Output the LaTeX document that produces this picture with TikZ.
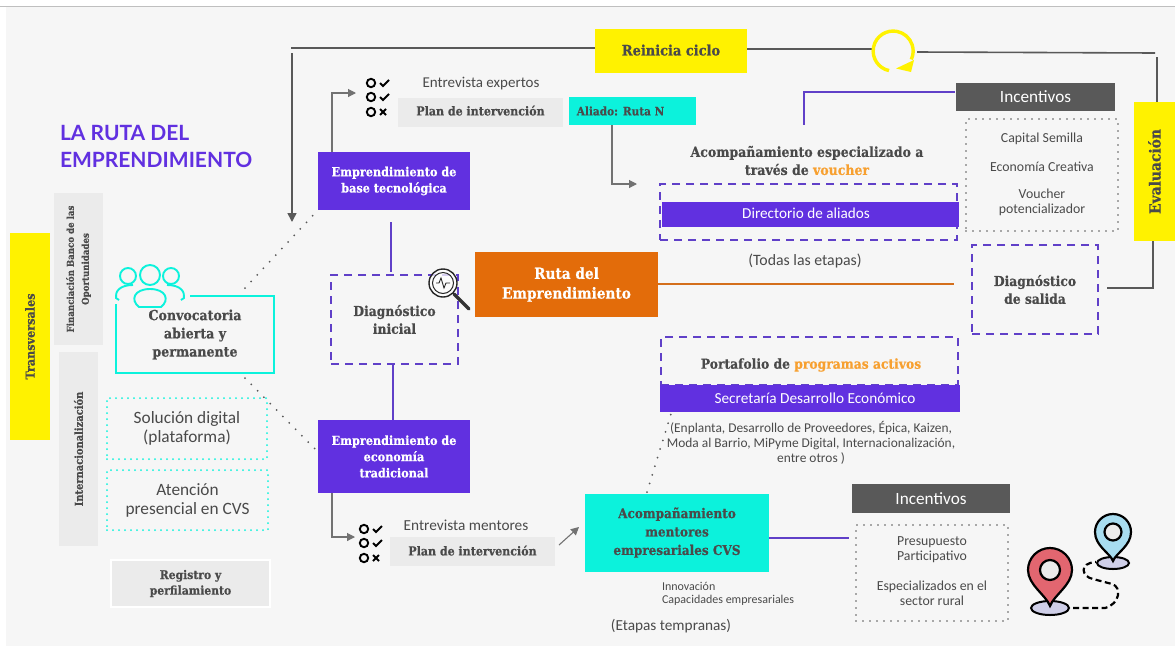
\documentclass[tikz,border=0pt]{standalone}
\usepackage{fontspec}
\setmainfont{Carlito}
\newfontfamily\slab[BoldFeatures={FakeBold=0.5}]{DejaVu Serif Condensed}
\newfontfamily\ttl{Lato}
\usetikzlibrary{arrows.meta,calc}
\definecolor{ypl}{HTML}{FFF200}
\definecolor{pur}{HTML}{6130E0}
\definecolor{lin}{HTML}{6040C8}
\definecolor{teal1}{HTML}{0CF2DC}
\definecolor{gbox}{HTML}{EBEBEB}
\definecolor{dgray}{HTML}{595959}
\definecolor{txt}{HTML}{4A4A4A}
\definecolor{org}{HTML}{E36C0A}
\definecolor{org2}{HTML}{F7A030}
\definecolor{bgc}{HTML}{F6F6F6}
\definecolor{pinr}{HTML}{E26670}
\definecolor{pinb}{HTML}{A8DDF0}
\definecolor{pinl}{HTML}{CFCFE8}
\newcommand{\bx}[7]{\node[#6,minimum width={(#4-#2)*1pt},minimum height={(#5-#3)*1pt}] (#1) at ({(#2+#4)/2},{-(#3+#5)/2}) {#7};}
\newcommand{\vbx}[7]{\node[#6,rotate=90,minimum width={(#5-#3)*1pt},minimum height={(#4-#2)*1pt}] (#1) at ({(#2+#4)/2},{-(#3+#5)/2}) {#7};}
\newcommand{\chk}[3]{%
 \draw[black,line width=1.9] (#1,#2) circle[radius=4.2];
 \ifnum#3=1 \draw[black,line width=1.8] (#1+9,#2) -- (#1+12,#2-3) -- (#1+18,#2+3);
 \else \draw[black,line width=1.8] (#1+9,#2+3) -- (#1+15,#2-3) (#1+9,#2-3) -- (#1+15,#2+3);\fi}
\tikzset{
 every node/.style={inner sep=0,outer sep=0,align=center,text=txt},
 sl/.style={font=\slab\bfseries\fontsize{#1}{\dimexpr#1pt*13/10\relax}\selectfont},
 rg/.style={font=\fontsize{#1}{\dimexpr#1pt*11/10\relax}\selectfont},
 yb/.style={fill=ypl},
 pb/.style={fill=pur,text=white},
 gb/.style={fill=gbox},
 db/.style={fill=dgray,text=white},
 tb/.style={fill=teal1},
 dash box/.style={draw=lin,line width=1.9,dash pattern=on 8pt off 6pt},
 dot box/.style={draw=dgray,line width=1.7,line cap=round,dash pattern=on 0pt off 7pt},
 dotl/.style={draw=dgray,line width=2,line cap=round,dash pattern=on 0pt off 9pt},
 tdot/.style={draw=teal1,line width=2,line cap=round,dash pattern=on 0pt off 6pt},
 gl/.style={draw=dgray,line width=1.6},
 gla/.style={draw=dgray!85,line width=1.1,-{Triangle[length=8pt,width=8pt]}},
 pl/.style={draw=lin,line width=1.8},
}
\begin{document}
\begin{tikzpicture}[x=1pt,y=1pt]
\useasboundingbox (0,0) rectangle (1175,-646);
\fill[white] (0,0) rectangle (1175,-646);
\fill[bgc] (6,-7) rectangle (1175,-646);
\draw[gray!50,line width=.8] (0,-6.5) -- (1175,-6.5);
% title
\node[anchor=west,text=pur,font=\ttl\bfseries\fontsize{21}{27}\selectfont,align=left] (title) at (60,-146) {LA RUTA DEL\\EMPRENDIMIENTO};
% left column
\vbx{trans}{10}{233}{50}{440}{yb,sl=12.5}{Transversales}
\vbx{fin}{54}{193}{103}{345}{gb,font=\slab\bfseries\fontsize{9.6}{15}\selectfont}{Financiación Banco de las\\Oportunidades}
\vbx{inter}{59}{352}{98}{546}{gb,sl=11}{Internacionalización}
\bx{conv}{116}{296}{274}{373}{sl=14}{Convocatoria\\abierta y\\permanente}
\draw[teal1,line width=2.4] ($(conv.north west)+(74,0)$) -- (conv.north east) -- (conv.south east) -- (conv.south west) -- ($(conv.north west)+(0,-8)$);
\bx{sol}{107}{398}{267}{459}{tdot,rg=17.3}{Solución digital\\(plataforma)}
\bx{ate}{107}{470}{268}{530}{tdot,rg=17.3}{Atención\\presencial en CVS}
\fill[white] (110,-559) rectangle (271,-608);
\bx{reg}{112}{561}{269}{606}{gb,sl=12}{Registro y\\perfilamiento}
% people
\begin{scope}[line width=1.9]
\draw[teal1] (150,-275) circle[radius=10];
\draw[teal1] (128,-276) circle[radius=8];
\draw[teal1] (171,-276) circle[radius=8];
\draw[teal1] (139,-307) .. controls (130,-300) and (134,-289) .. (150,-289) .. controls (166,-289) and (170,-300) .. (161,-307) -- cycle;
\draw[teal1] (119,-300) -- (116,-298) .. controls (115,-292) and (119,-285) .. (133,-285);
\draw[teal1] (181,-300) -- (184,-298) .. controls (185,-292) and (181,-285) .. (167,-285);
\end{scope}
% centre column
\bx{base}{318}{152}{470}{210}{pb,sl=12.5}{Emprendimiento de\\base tecnológica}
\bx{diag}{331}{275}{458}{364}{dash box,sl=13.7}{Diagnóstico\\inicial}
\bx{trad}{318}{420}{470}{493}{pb,sl=12.5}{Emprendimiento de\\economía\\tradicional}
\bx{ruta}{475}{252}{658}{317}{fill=org,text=white,sl=15.2}{Ruta del\\Emprendimiento}
\coordinate (v1t) at (391,-222); \coordinate (v1b) at (391,-272);
\draw[pl] (v1t) -- (v1b);
\coordinate (v2t) at (393,-364); \coordinate (v2b) at (393,-420);
\draw[pl] (v2t) -- (v2b);
% magnifier
\draw[black!80,line width=3.2,line cap=round] (454,-294) -- (469,-309);
\fill[white,opacity=.75] (443,-283) circle[radius=14];
\draw[black!85,line width=1.4] (443,-283) circle[radius=14];
\draw[black!85,line width=1] (443,-283) circle[radius=10.5];
\draw[black!85,line width=.9] (436,-283) -- (439,-283) -- (441,-278) -- (444,-288) -- (446,-283) -- (450,-283);
% upper plan
\chk{371}{-83}{1}\chk{371}{-97}{1}\chk{371}{-112}{0}
\node[rg=15] (ee) at (481,-84) {Entrevista expertos};
\bx{pi1}{398}{98}{563}{127}{gb,sl=12.3}{\raisebox{4pt}{Plan de intervención}}
\bx{ali}{569}{97}{696}{125}{tb,sl=11.7}{Aliado: Ruta N\hspace{24pt}}
\coordinate (a1) at (356,-93);
\draw[gla] (base.north west)++(14,0) |- (a1);
\coordinate (a2) at (637,-184);
\draw[gla] (ali.south west)++(43,0) |- (a2);
% top loop
\bx{rein}{595}{29}{747}{73}{yb,sl=14.4}{\raisebox{2pt}{Reinicia ciclo}}
\coordinate (lt) at (291,-48); \coordinate (lv1) at (292,-53); \coordinate (lv2) at (292,-222);
\draw[gl] (rein.west |- lt) -- (lt);
\draw[gl,-{Triangle[length=9pt,width=9pt]}] (lv1) -- (lv2);
\coordinate (cl) at (875,-49); \coordinate (cr) at (917,-52); \coordinate (r1) at (1155,-53);
\draw[gl] (rein.east |- cl) -- (cl);
\draw[gl] (cr) -- (r1);
\draw[ypl,line width=3.4] (889,-70.6) arc[start angle=258,end angle=-25,radius=20];
\fill[ypl] (896,-68.5) -- (914,-60) -- (911,-72) -- cycle;
\vbx{eval}{1134}{102}{1175}{241}{yb,sl=15.4}{Evaluación}
\coordinate (e1) at (1157,-57); \coordinate (e1b) at (1157,-102);
\draw[gl] (e1) -- (e1b);
\coordinate (e2) at (1153,-241); \coordinate (e3) at (1153,-288); \coordinate (e4) at (1107,-288);
\draw[gl] (e2) -- (e3) -- (e4);
% right top
\bx{inc1}{956}{83}{1115}{111}{db,rg=17.2}{Incentivos}
\coordinate (p0) at (955,-92); \coordinate (p1) at (804,-125);
\draw[pl] (p0) -| (p1);
\bx{idot}{966}{119}{1118}{231}{dot box}{}
\node[rg=13.8] (t1) at (1042,-139) {Capital Semilla};
\node[rg=13.8] (t2) at (1042,-167) {Economía Creativa};
\node[rg=13.8] (t3) at (1042,-202.5) {Voucher\\potencializador};
\node[sl=13.9] (acomp) at (807,-160.5) {Acompañamiento especializado a\\través de \textcolor{org2}{voucher}};
\bx{dirb}{660}{184}{957}{240}{dash box}{}
\bx{dir}{662}{202}{959}{227}{pb,rg=15.2}{\raisebox{2pt}{Directorio de aliados}\hspace{9pt}}
\node[rg=15.8] (tod) at (805,-261) {(Todas las etapas)};
\coordinate (o0) at (658,-284); \coordinate (o1) at (954,-284);
\draw[org!85!gray,line width=1.6] (o0) -- (o1);
\bx{dsal}{972}{245}{1098}{334}{dash box,sl=13.7}{Diagnóstico\\de salida}
% portfolio
\bx{port}{661}{337}{958}{385}{dash box}{}
\node[sl=13.7] (pt) at (811,-365) {Portafolio de \textcolor{org2}{programas activos}};
\bx{sec}{660}{385}{960}{412}{pb,rg=15.3}{\hspace{10pt}Secretaría Desarrollo Económico}
\node[rg=13.4] (lst) at (811,-443) {(Enplanta, Desarrollo de Proveedores, Épica, Kaizen,\\Moda al Barrio, MiPyme Digital, Internacionalización,\\entre otros )};
% lower
\chk{364}{-529}{1}\chk{364}{-543}{1}\chk{364}{-558}{0}
\node[rg=15.3] (em) at (466,-525) {Entrevista mentores};
\bx{pi2}{390}{537}{555}{566}{gb,sl=12.3}{\raisebox{2pt}{Plan de intervención}}
\coordinate (a3) at (355,-537);
\draw[gla] (trad.south west)++(14,0) |- (a3);
\coordinate (a4s) at (559,-545); \coordinate (a4e) at (579,-527);
\draw[gla] (a4s) -- (a4e);
\bx{men}{585}{494}{769}{572}{tb,sl=13.4}{\raisebox{2pt}{\begin{tabular}{@{}c@{}}Acompañamiento\\[1pt]mentores\\[1pt]empresariales CVS\end{tabular}}}
\bx{inc2}{852}{484}{1010}{513}{db,rg=17.2}{Incentivos}
\bx{idot2}{856}{525}{1008}{621}{dot box}{}
\coordinate (p2s) at (769,-538); \coordinate (p2) at (849,-538);
\draw[pl] (p2s) -- (p2);
\node[rg=13.8] (t4) at (932,-550) {Presupuesto\\Participativo};
\node[rg=13.8] (t5) at (932,-593) {Especializados en el\\sector rural};
\node[anchor=west,align=left,rg=12] (inn) at (662,-593.5) {Innovación\\Capacidades empresariales};
\node[rg=15.3] (etp) at (671,-626) {(Etapas tempranas)};
% dotted connectors
\coordinate (d1) at (245,-288); \coordinate (d2) at (245,-378); \coordinate (d2e) at (318,-452);
\draw[dotl] (d1) -- (base.south west);
\draw[dotl] (d2) -- (d2e);
\coordinate (d3) at (671,-414);
\draw[dotl,dash pattern=on 0pt off 9pt] (men.north west)++(62,2) -- (d3);
% pins
\draw[black,line width=2,fill=pinl] (1050,-608) ellipse[x radius=19,y radius=7];
\draw[black,line width=2.2,fill=pinr] (1050,-606) .. controls (1046,-595) and (1028,-585) .. (1028,-570) arc[start angle=180,end angle=0,radius=22] .. controls (1072,-585) and (1054,-595) .. (1050,-606) -- cycle;
\draw[black,line width=2.2,fill=black!8] (1050,-570) circle[radius=10];
\draw[black,line width=2,fill=pinl] (1113,-563) ellipse[x radius=16,y radius=6];
\draw[black,line width=2.2,fill=pinb] (1113,-561) .. controls (1110,-553) and (1095,-546) .. (1095,-532) arc[start angle=180,end angle=0,radius=18] .. controls (1131,-546) and (1116,-553) .. (1113,-561) -- cycle;
\draw[black,line width=2.2,fill=black!8] (1113,-532) circle[radius=8.5];
\draw[black,line width=2.2,dash pattern=on 6pt off 3.5pt] (1073,-608) -- (1105,-608) .. controls (1120,-604) and (1122,-587) .. (1112,-584) -- (1093,-579) .. controls (1082,-577) and (1078,-563) .. (1096,-562);
\end{tikzpicture}
\end{document}
